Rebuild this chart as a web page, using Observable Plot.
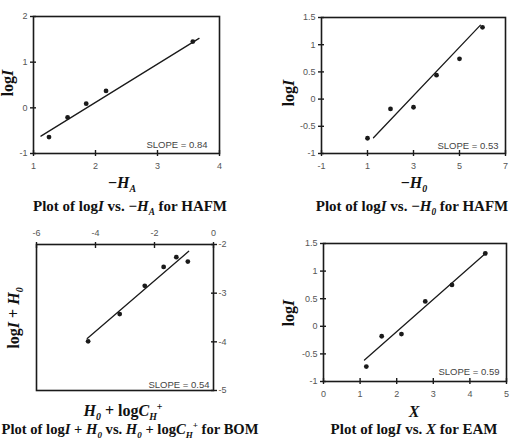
<!DOCTYPE html>
<html>
<head>
<meta charset="utf-8">
<script src="https://cdn.jsdelivr.net/npm/d3@7"></script>
<script src="https://cdn.jsdelivr.net/npm/@observablehq/plot@0.6"></script>
<style>
  html, body { margin: 0; padding: 0; background: #fff; }
  #wrap { position: relative; width: 515px; height: 441px; overflow: hidden; background: #fff; }
  #wrap svg { position: absolute; }
  .lbl { position: absolute; transform: translate(-50%, -50%); white-space: nowrap;
         font-family: "Liberation Serif", "Times New Roman", serif; font-weight: bold; color: #111; line-height: 1; }
  .ax { font-size: 16px; }
  .ttl { font-size: 15px; }
  .ttl.narrow { font-size: 14.6px; }
  .yl { font-size: 16px; transform: translate(-50%, -50%) rotate(-90deg); }
  sub, sup { font-size: 62%; line-height: 0; }
</style>
</head>
<body>
<div id="wrap"></div>
<script>
// ---- Panel 1: log I vs -H_A for HAFM ----
const p1X = [1.25, 1.55, 1.85, 2.17, 3.57];
const p1Y = [-0.64, -0.21, 0.09, 0.37, 1.45];
const p1FitX = [1.12, 3.67];
const p1FitY = [-0.62, 1.52];
const p1XTicks = [1, 2, 3, 4];
const p1YTicks = [-1, 0, 1, 2];
const p1Slope = "SLOPE = 0.84";

// ---- Panel 2: log I vs -H0 for HAFM ----
const p2X = [1, 2, 3, 4, 5, 6];
const p2Y = [-0.72, -0.18, -0.15, 0.44, 0.74, 1.32];
const p2FitX = [1.26, 5.91];
const p2FitY = [-0.71, 1.36];
const p2XTicks = [-1, 1, 3, 5, 7];
const p2YTicks = [-1, -0.5, 0, 0.5, 1, 1.5];
const p2Slope = "SLOPE = 0.53";

// ---- Panel 3: log I + H0 vs H0 + log C_H+ for BOM ----
const p3X = [-4.25, -3.18, -2.33, -1.69, -1.26, -0.87];
const p3Y = [-3.99, -3.43, -2.85, -2.46, -2.26, -2.35];
const p3FitX = [-4.28, -0.84];
const p3FitY = [-3.93, -2.14];
const p3XTicks = [-6, -4, -2, 0];
const p3YTicks = [-5, -4, -3, -2];
const p3Slope = "SLOPE = 0.54";

// ---- Panel 4: log I vs X for EAM ----
const p4X = [1.17, 1.59, 2.13, 2.78, 3.51, 4.42];
const p4Y = [-0.73, -0.18, -0.14, 0.45, 0.75, 1.32];
const p4FitX = [1.12, 4.46];
const p4FitY = [-0.61, 1.34];
const p4XTicks = [0, 1, 2, 3, 4, 5];
const p4YTicks = [-1, -0.5, 0, 0.5, 1, 1.5];
const p4Slope = "SLOPE = 0.59";

const fmt = d => String(d);
const blank = () => "";
const TXT = "#555";
const INK = "#1a1a1a";

function panel(c) {
  const pts = c.xs.map((x, i) => ({x, y: c.ys[i]}));
  const fit = c.fx.map((x, i) => ({x, y: c.fy[i]}));
  const xa = c.xAnchor, ya = c.yAnchor;
  const chart = Plot.plot({
    width: c.w, height: c.h,
    marginLeft: c.ml, marginRight: c.mr, marginTop: c.mt, marginBottom: c.mb,
    style: {fontFamily: "'Liberation Sans', Arial, sans-serif", fontSize: "9px", background: "transparent", overflow: "visible"},
    x: {domain: c.xd, label: null},
    y: {domain: c.yd, label: null},
    marks: [
      Plot.frame({stroke: INK, strokeWidth: 1.6}),
      Plot.axisX(c.xt, {anchor: xa, label: null, tickSize: 6, dy: xa === "bottom" ? -3 : 3, stroke: INK, strokeWidth: 1.4, tickFormat: blank}),
      Plot.axisX(c.xt, {anchor: xa, label: null, tickSize: 0, tickPadding: c.xpad, tickFormat: fmt, fill: TXT}),
      Plot.axisY(c.yt, {anchor: ya, label: null, tickSize: 6, dx: ya === "left" ? 3 : -3, stroke: INK, strokeWidth: 1.4, tickFormat: blank}),
      Plot.axisY(c.yt, {anchor: ya, label: null, tickSize: 0, tickPadding: c.ypad, tickFormat: fmt, fill: TXT}),
      Plot.line(fit, {x: "x", y: "y", stroke: INK, strokeWidth: 1.3}),
      Plot.dot(pts, {x: "x", y: "y", r: 2.4, fill: INK, stroke: "none"}),
      Plot.text([c.slope], {frameAnchor: "bottom-right", dx: c.sdx, dy: c.sdy, lineAnchor: "bottom", textAnchor: "end", fill: "#444", fontSize: 9.5})
    ]
  });
  chart.style.left = c.left + "px";
  chart.style.top = c.top + "px";
  return chart;
}

const wrap = document.getElementById("wrap");
wrap.append(panel({left: 0, top: 0, w: 257, h: 176, ml: 33, mr: 38, mt: 16, mb: 23,
  xd: [1, 4], yd: [-1, 2], xt: p1XTicks, yt: p1YTicks, xAnchor: "bottom", yAnchor: "left",
  xpad: 9, ypad: 6, xs: p1X, ys: p1Y, fx: p1FitX, fy: p1FitY, slope: p1Slope, sdx: -12, sdy: -6}));
wrap.append(panel({left: 257, top: 0, w: 258, h: 176, ml: 64, mr: 10, mt: 17, mb: 23,
  xd: [-1, 7], yd: [-1, 1.5], xt: p2XTicks, yt: p2YTicks, xAnchor: "bottom", yAnchor: "left",
  xpad: 9, ypad: 6, xs: p2X, ys: p2Y, fx: p2FitX, fy: p2FitY, slope: p2Slope, sdx: -7, sdy: -5}));
wrap.append(panel({left: 0, top: 215, w: 257, h: 185, ml: 36, mr: 44, mt: 29, mb: 10,
  xd: [-6, 0], yd: [-5, -2], xt: p3XTicks, yt: p3YTicks, xAnchor: "top", yAnchor: "right",
  xpad: 9, ypad: 5, xs: p3X, ys: p3Y, fx: p3FitX, fy: p3FitY, slope: p3Slope, sdx: -4, sdy: -3}));
wrap.append(panel({left: 257, top: 215, w: 258, h: 185, ml: 66, mr: 9, mt: 28, mb: 19,
  xd: [0, 5], yd: [-1, 1.5], xt: p4XTicks, yt: p4YTicks, xAnchor: "bottom", yAnchor: "left",
  xpad: 9, ypad: 6, xs: p4X, ys: p4Y, fx: p4FitX, fy: p4FitY, slope: p4Slope, sdx: -7, sdy: -7}));

const labels = [
  ["ax", 122, 183, "−<i>H<sub>A</sub></i>"],
  ["ttl", 130, 206, "Plot of log<i>I</i> vs. −<i>H<sub>A</sub></i> for HAFM"],
  ["yl", 8, 83, "log<i>I</i>"],
  ["ax", 414, 183, "−<i>H<sub>0</sub></i>"],
  ["ttl", 412, 206, "Plot of log<i>I</i> vs. −<i>H<sub>0</sub></i> for HAFM"],
  ["yl", 289, 93, "log<i>I</i>"],
  ["ax", 123, 411, "<i>H<sub>0</sub></i> + log<i>C<sub>H</sub></i><sup>+</sup>"],
  ["ttl narrow", 130, 429, "Plot of log<i>I</i> + <i>H<sub>0</sub></i> vs. <i>H<sub>0</sub></i> + log<i>C<sub>H</sub></i><sup>+</sup> for BOM"],
  ["yl", 14, 318, "log<i>I</i> + <i>H<sub>0</sub></i>"],
  ["ax", 414, 412, "<i>X</i>"],
  ["ttl", 414, 429, "Plot of log<i>I</i> vs. <i>X</i> for EAM"],
  ["yl", 289, 313, "log<i>I</i>"]
];
for (const [cls, x, y, html] of labels) {
  const d = document.createElement("div");
  d.className = "lbl " + cls;
  d.style.left = x + "px";
  d.style.top = y + "px";
  d.innerHTML = html;
  wrap.append(d);
}
</script>
</body>
</html>
